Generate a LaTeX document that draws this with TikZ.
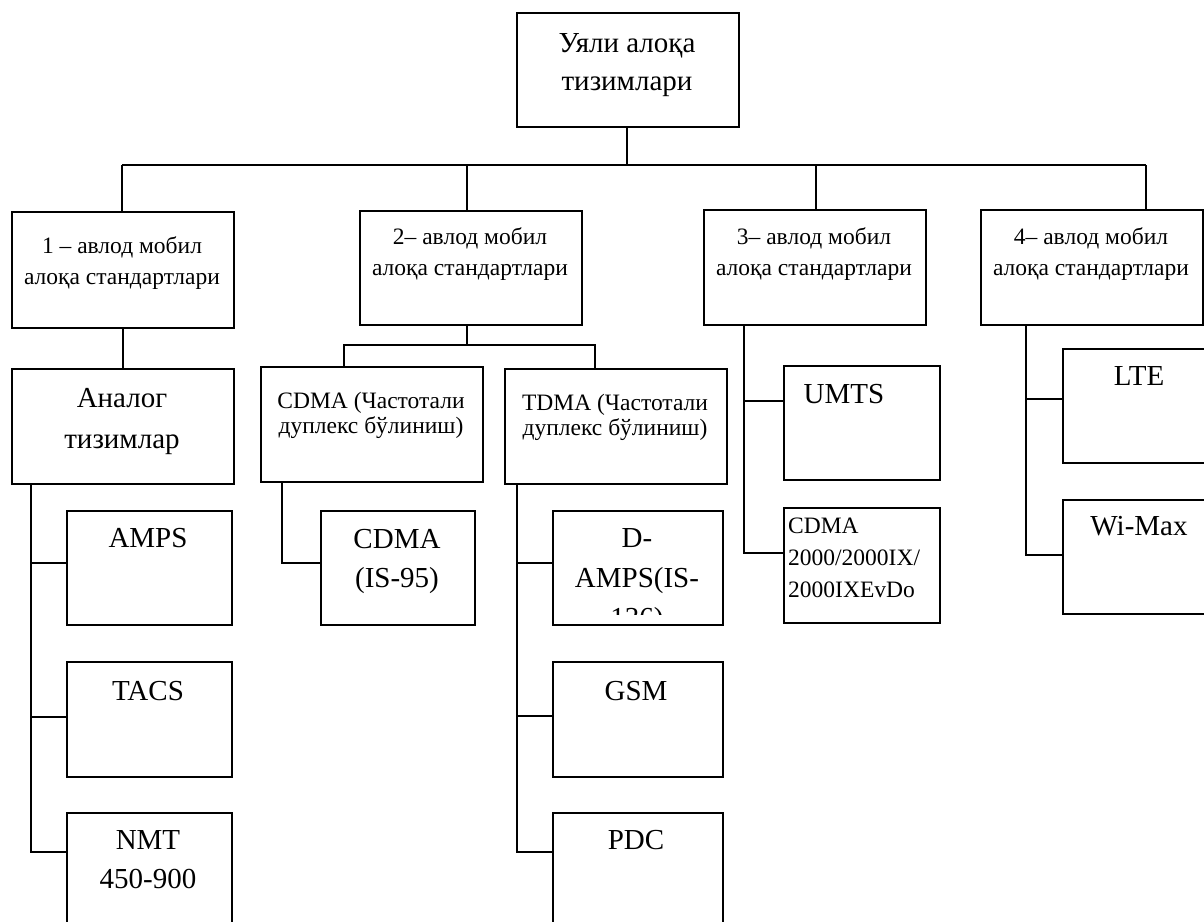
\documentclass[tikz,border=0pt]{standalone}
\usepackage{fontspec}
\setmainfont{Liberation Serif}
\newcommand\ctext[2]{\vtop{\baselineskip=#1pt\lineskiplimit=-1000pt\halign{\hfil##\hfil\cr#2\crcr}}}
\newcommand\ltext[2]{\vtop{\baselineskip=#1pt\lineskiplimit=-1000pt\halign{##\hfil\cr#2\crcr}}}
\tikzset{
  box/.style={draw, line width=1.6pt, rectangle, inner sep=0pt, anchor=north west},
  big/.style={inner sep=0pt, anchor=base, font=\fontsize{29}{35}\selectfont},
  small/.style={inner sep=0pt, anchor=base, font=\fontsize{23.5}{28}\selectfont},
  smallL/.style={inner sep=0pt, anchor=base west, font=\fontsize{23.5}{28}\selectfont},
  conn/.style={line width=1.6pt}
}
\begin{document}
\begin{tikzpicture}[x=1pt,y=-1pt]
\clip (0,0) rectangle (1204,921);
% boxes
\node[box, minimum width=222, minimum height=114] (top) at (516,12) {};
\node[box, minimum width=222, minimum height=116] (g1) at (11,211) {};
\node[box, minimum width=222, minimum height=114] (g2) at (359,210) {};
\node[box, minimum width=222, minimum height=115] (g3) at (703,209) {};
\node[box, minimum width=222, minimum height=115] (g4) at (980,209) {};
\node[box, minimum width=222, minimum height=115] (analog) at (11,368) {};
\node[box, minimum width=222, minimum height=115] (cdma) at (260,366) {};
\node[box, minimum width=222, minimum height=115] (tdma) at (504,368) {};
\node[box, minimum width=154, minimum height=114] (is95) at (320,510) {};
\node[box, minimum width=170, minimum height=114] (damps) at (552,510) {};
\node[box, minimum width=170, minimum height=115] (gsm) at (552,661) {};
\node[box, minimum width=170, minimum height=130] (pdc) at (552,812) {};
\node[box, minimum width=165, minimum height=114] (amps) at (66,510) {};
\node[box, minimum width=165, minimum height=115] (tacs) at (66,661) {};
\node[box, minimum width=165, minimum height=130] (nmt) at (66,812) {};
\node[box, minimum width=156, minimum height=114] (umts) at (783,365) {};
\node[box, minimum width=156, minimum height=115] (c2k) at (783,507) {};
\node[box, minimum width=160, minimum height=114] (lte) at (1062,348) {};
\node[box, minimum width=160, minimum height=114] (wimax) at (1062,499) {};
% texts
\node[big] (tTop) at (627,52) {\ctext{38}{Уяли алоқа\cr тизимлари}};
\node[small] (tG1) at (122,253) {\ctext{31}{1 – авлод мобил\cr алоқа стандартлари}};
\node[small] (tG2) at (470,244) {\ctext{31}{2– авлод мобил\cr алоқа стандартлари}};
\node[small] (tG3) at (814,244) {\ctext{31}{3– авлод мобил\cr алоқа стандартлари}};
\node[small] (tG4) at (1091,244) {\ctext{31}{4– авлод мобил\cr алоқа стандартлари}};
\node[big] (tAnalog) at (122,407) {\ctext{41}{Аналог\cr тизимлар}};
\node[small] (tCdma) at (371,408) {\ctext{25}{CDMA (Частотали\cr дуплекс бўлиниш)}};
\node[small] (tTdma) at (615,410) {\ctext{25}{TDMA (Частотали\cr дуплекс бўлиниш)}};
\node[big] (tIs95) at (397,548) {\ctext{39}{CDMA\cr (IS-95)}};
\begin{scope}
\clip (552,510) rectangle (722,614);
\node[big] (tDamps) at (637,547) {\ctext{40}{D-\cr AMPS(IS-\cr 136)}};
\end{scope}
\node[big] (tGsm) at (636,700) {GSM};
\node[big] (tPdc) at (636,849) {PDC};
\node[big] (tAmps) at (148,547) {AMPS};
\node[big] (tTacs) at (148,700) {TACS};
\node[big] (tNmt) at (148,849) {\ctext{39}{NMT\cr 450-900}};
\node[big] (tUmts) at (844,403) {UMTS};
\node[smallL] (tC2k) at (788,533) {\ltext{32}{CDMA\cr 2000/2000IX/\cr 2000IXEvDo}};
\node[big] (tLte) at (1139,385) {LTE};
\node[big] (tWimax) at (1139,535) {Wi-Max};
% connectors
\coordinate (busT) at (627,165);
\coordinate (busL) at (122,165);
\coordinate (busR) at (1146,165);
\coordinate (d2) at (467,165);
\coordinate (d3) at (816,165);
\draw[conn] (busT |- top.south) -- (busT);
\draw[conn] (busL) -- (busR);
\draw[conn] (busL) -- (busL |- g1.north);
\draw[conn] (d2) -- (d2 |- g2.north);
\draw[conn] (d3) -- (d3 |- g3.north);
\draw[conn] (busR) -- (busR |- g4.north);
\draw[conn] (g1.south) -- (analog.north);
% 2G sub bus
\coordinate (s2) at (467,345);
\coordinate (s2L) at (344,345);
\coordinate (s2R) at (595,345);
\draw[conn] (s2 |- g2.south) -- (s2);
\draw[conn] (s2L |- cdma.north) -- (s2L) -- (s2R) -- (s2R |- tdma.north);
% cdma -> is95
\coordinate (cB) at (282,563);
\draw[conn] (cB |- cdma.south) -- (cB) -- (cB -| is95.west);
% tdma trunk
\coordinate (tA) at (517,563);
\coordinate (tG) at (517,716);
\coordinate (tP) at (517,852);
\draw[conn] (tP |- tdma.south) -- (tP) -- (tP -| pdc.west);
\draw[conn] (tA) -- (tA -| damps.west);
\draw[conn] (tG) -- (tG -| gsm.west);
% analog trunk
\coordinate (aA) at (31,563);
\coordinate (aT) at (31,717);
\coordinate (aN) at (31,852);
\draw[conn] (aN |- analog.south) -- (aN) -- (aN -| nmt.west);
\draw[conn] (aA) -- (aA -| amps.west);
\draw[conn] (aT) -- (aT -| tacs.west);
% 3G trunk
\coordinate (u3) at (744,401);
\coordinate (c3) at (744,553);
\draw[conn] (c3 |- g3.south) -- (c3) -- (c3 -| c2k.west);
\draw[conn] (u3) -- (u3 -| umts.west);
% 4G trunk
\coordinate (l4) at (1026,399);
\coordinate (w4) at (1026,555);
\draw[conn] (w4 |- g4.south) -- (w4) -- (w4 -| wimax.west);
\draw[conn] (l4) -- (l4 -| lte.west);
\end{tikzpicture}
\end{document}
